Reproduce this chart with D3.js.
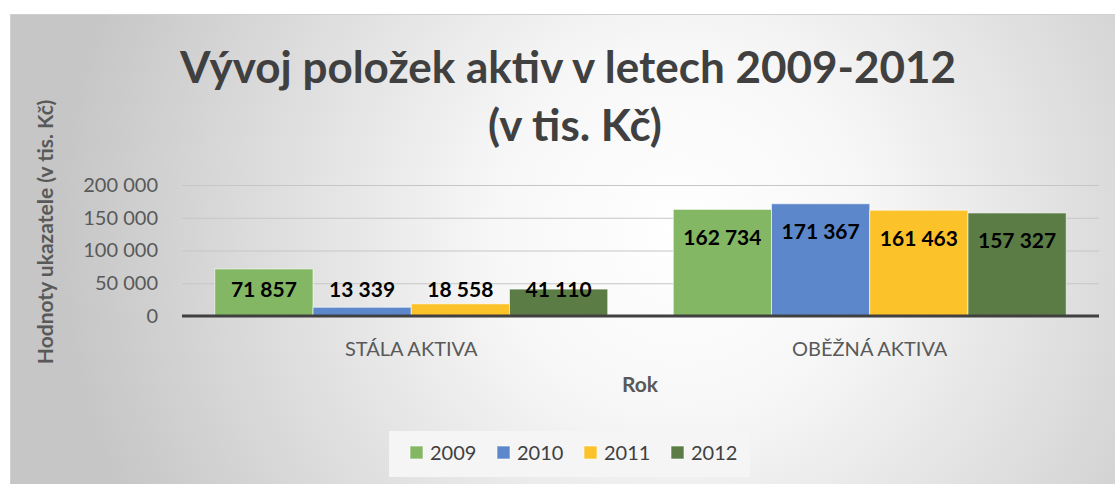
<!DOCTYPE html>
<html>
<head>
<meta charset="utf-8">
<script src="https://cdn.jsdelivr.net/npm/d3@7"></script>
<style>
  body { margin: 0; background: #fff; }
  svg { display: block; }
</style>
</head>
<body>
<svg id="chart"></svg>
<script>
// chart data
const categories = ['STÁLA AKTIVA', 'OBĚŽNÁ AKTIVA'];
const years = ['2009', '2010', '2011', '2012'];
const values2009 = [71857, 162734];
const values2010 = [13339, 171367];
const values2011 = [18558, 161463];
const values2012 = [41110, 157327];
const yTicks = [0, 50000, 100000, 150000, 200000];
const colors = ['#83b763', '#5d87cb', '#fcc229', '#5b7d45'];

const series = [values2009, values2010, values2011, values2012];
const W = 1115, H = 484;
const margins = { left: 182, right: 16, top: 185, bottom: 168 };
const font = 'Lato, "Open Sans", sans-serif';

const svg = d3.select('#chart').attr('width', W).attr('height', H);

// background with radial gradient
const defs = svg.append('defs');
const grad = defs.append('radialGradient')
    .attr('id', 'bg')
    .attr('gradientUnits', 'userSpaceOnUse')
    .attr('cx', 680).attr('cy', 230).attr('r', 620);
grad.append('stop').attr('offset', '0%').attr('stop-color', '#ffffff');
grad.append('stop').attr('offset', '30%').attr('stop-color', '#f7f7f7');
grad.append('stop').attr('offset', '100%').attr('stop-color', '#c6c6c6');

svg.append('rect')
    .attr('x', 10.5).attr('y', 14.5)
    .attr('width', W - 10).attr('height', H)
    .attr('fill', 'url(#bg)')
    .attr('stroke', '#d0d0d0');

// scales
const band = (W - margins.right - margins.left) / categories.length;
const groupW = band * 0.857;
const x1 = d3.scaleBand()
    .domain(years)
    .range([0, groupW]);
const groupX = c => margins.left + categories.indexOf(c) * band + (band - groupW) / 2;
const y = d3.scaleLinear()
    .domain([0, 200000])
    .range([H - margins.bottom, margins.top]);

const fmt = v => d3.format(',')(v).replace(/,/g, ' ');

// gridlines + y axis labels
const yAxis = d3.axisLeft(y)
    .tickValues(yTicks)
    .tickSize(-(W - margins.right - margins.left))
    .tickPadding(24)
    .tickFormat(fmt);
const gy = svg.append('g')
    .attr('transform', `translate(${margins.left},0)`)
    .call(yAxis);
gy.select('.domain').remove();
gy.selectAll('.tick line').attr('stroke', '#c6c6c6').attr('stroke-width', 1);
gy.selectAll('.tick text')
    .attr('fill', '#595959')
    .style('font-family', font)
    .style('font-size', '20px');

// bars
const rows = categories.map((c, i) => ({
    cat: c,
    items: years.map((yr, j) => ({ year: yr, value: series[j][i], color: colors[j] }))
}));

const groups = svg.append('g').selectAll('g')
    .data(rows)
    .join('g')
    .attr('transform', d => `translate(${groupX(d.cat)},0)`);

groups.selectAll('rect')
    .data(d => d.items)
    .join('rect')
    .attr('x', d => x1(d.year))
    .attr('y', d => y(d.value))
    .attr('width', x1.bandwidth())
    .attr('height', d => y(0) - y(d.value))
    .attr('fill', d => d.color)
    .attr('stroke', 'rgba(255,255,255,0.6)')
    .attr('stroke-width', 1);

groups.selectAll('text')
    .data(d => d.items)
    .join('text')
    .attr('x', d => x1(d.year) + x1.bandwidth() / 2)
    .attr('y', d => Math.min(y(d.value) + 28, y(0) - 26))
    .attr('dy', '0.35em')
    .attr('text-anchor', 'middle')
    .attr('fill', '#000')
    .style('font-family', font)
    .style('font-weight', 'bold')
    .style('font-size', '21px')
    .text(d => fmt(d.value));

// x baseline
svg.append('line')
    .attr('x1', margins.left).attr('x2', W - margins.right)
    .attr('y1', y(0)).attr('y2', y(0))
    .attr('stroke', '#404040').attr('stroke-width', 3);

// category labels
svg.append('g').selectAll('text')
    .data(categories)
    .join('text')
    .attr('x', d => margins.left + categories.indexOf(d) * band + band / 2)
    .attr('y', 356)
    .attr('text-anchor', 'middle')
    .attr('fill', '#595959')
    .style('font-family', font)
    .style('font-size', '20px')
    .text(d => d);

// axis titles
svg.append('text')
    .attr('x', 640).attr('y', 392)
    .attr('text-anchor', 'middle')
    .attr('fill', '#595959')
    .style('font-family', font)
    .style('font-weight', 'bold')
    .style('font-size', '21px')
    .text('Rok');

svg.append('text')
    .attr('transform', 'translate(53,232) rotate(-90)')
    .attr('text-anchor', 'middle')
    .attr('fill', '#595959')
    .style('font-family', font)
    .style('font-weight', 'bold')
    .style('font-size', '21px')
    .text('Hodnoty ukazatele (v tis. Kč)');

// title
const title = svg.append('text')
    .attr('text-anchor', 'middle')
    .attr('fill', '#404040')
    .style('font-family', font)
    .style('font-weight', 'bold')
    .style('font-size', '44px');
title.append('tspan').attr('x', 568).attr('y', 83).text('Vývoj položek aktiv v letech 2009-2012');
title.append('tspan').attr('x', 575).attr('y', 141).text('(v tis. Kč)');

// legend
const legend = svg.append('g').attr('transform', 'translate(389,431)');
legend.append('rect')
    .attr('width', 361).attr('height', 46)
    .attr('fill', '#f5f5f5');
const legendItems = legend.selectAll('g')
    .data(years)
    .join('g')
    .attr('transform', (d, i) => `translate(${21 + i * 87},0)`);
legendItems.append('rect')
    .attr('y', 15).attr('width', 13).attr('height', 13)
    .attr('fill', (d, i) => colors[i])
    .attr('stroke', 'rgba(255,255,255,0.6)');
legendItems.append('text')
    .attr('x', 20).attr('y', 22)
    .attr('dy', '0.35em')
    .attr('fill', '#404040')
    .style('font-family', font)
    .style('font-size', '20px')
    .text(d => d);
</script>
</body>
</html>
